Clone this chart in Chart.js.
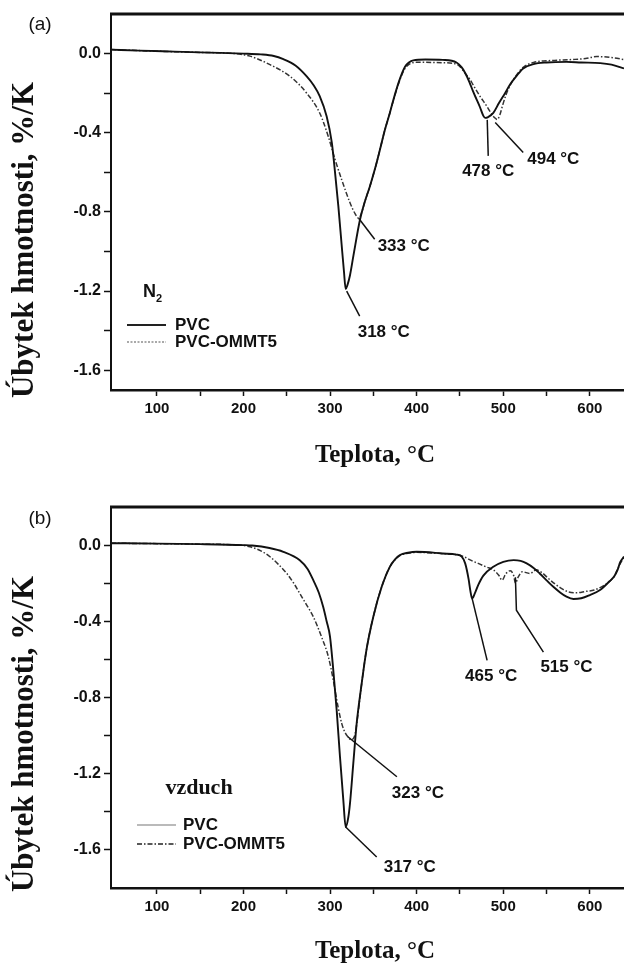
<!DOCTYPE html>
<html><head><meta charset="utf-8">
<script src="https://cdn.jsdelivr.net/npm/chart.js@4.4.0/dist/chart.umd.min.js"></script>
<style>
html,body{margin:0;padding:0;background:#fff;overflow:hidden;width:624px;height:967px}
#wa{position:absolute;left:0;top:0;width:624px;height:480px}
#wb{position:absolute;left:0;top:480px;width:624px;height:487px}
</style></head><body>
<div id="wa"><canvas id="ca"></canvas></div>
<div id="wb"><canvas id="cb"></canvas></div>
<script>
// ---------- data ----------
const xTicks = [100,150,200,250,300,350,400,450,500,550,600];
const xTickLabels = ['100','','200','','300','','400','','500','','600'];
const yTicks = [0,-0.2,-0.4,-0.6,-0.8,-1.0,-1.2,-1.4,-1.6];
const yTickLabels = ['0.0','','-0.4','','-0.8','','-1.2','','-1.6'];

// panel (a) N2
const tempA_PVC = [47,80,120,160,200,220,235,246,260,273,281,288,296,302,305.7,309.5,313.4,316,318,320,323,327,334.5,340,346,352,357.6,363,369,374,379,383,386.5,391,396,410,430,446,452,456,461,465,469,473,477,479,482,488.5,495,502,508,515,523,535,550,573,590,612,625,639.4];
const valA_PVC = [0.02,0.015,0.01,0.005,0.0,-0.004,-0.012,-0.028,-0.06,-0.115,-0.16,-0.215,-0.317,-0.45,-0.60,-0.77,-0.97,-1.10,-1.19,-1.17,-1.12,-1.02,-0.84,-0.75,-0.67,-0.58,-0.485,-0.39,-0.30,-0.22,-0.148,-0.10,-0.066,-0.045,-0.034,-0.03,-0.032,-0.045,-0.07,-0.098,-0.145,-0.19,-0.23,-0.27,-0.315,-0.325,-0.322,-0.30,-0.25,-0.20,-0.155,-0.115,-0.075,-0.053,-0.045,-0.042,-0.045,-0.048,-0.056,-0.075];
const tempA_OM = [47,100,150,190,207.5,230.6,253.7,273,288,298,305.7,313.4,323,329,333,336,340,346,352,357.6,363,369,374,379,383,387,392,400,430,445,450,456,461.5,465,473,481,485,489,493,496,499,503,508,515,523,535,555,580,595,608,625,639.4];
const valA_OM = [0.02,0.012,0.006,0.0,-0.013,-0.056,-0.115,-0.2,-0.30,-0.42,-0.535,-0.637,-0.754,-0.81,-0.832,-0.81,-0.75,-0.67,-0.58,-0.485,-0.39,-0.30,-0.222,-0.152,-0.106,-0.072,-0.052,-0.044,-0.046,-0.052,-0.066,-0.1,-0.13,-0.157,-0.215,-0.266,-0.295,-0.32,-0.333,-0.31,-0.265,-0.21,-0.16,-0.11,-0.07,-0.045,-0.035,-0.03,-0.025,-0.015,-0.02,-0.03];

// panel (b) vzduch
const tempB_PVC = [47,100,150,200,210,230,246,265,274,280.6,287,292,296,299.9,303.7,307.6,311.4,315.3,318,321,323,326.8,330.7,336.5,342,349.9,359.6,369,375,380.7,390,400,430,446,452,456,460,462,464,467,471,477,488.5,500,512,520,527,535,542,550,557.8,566,573,581,590,600,611.7,622.7,628,632,635,639.4];
const valB_PVC = [0.01,0.008,0.005,0.0,-0.002,-0.015,-0.035,-0.079,-0.125,-0.184,-0.25,-0.324,-0.40,-0.48,-0.656,-0.866,-1.11,-1.34,-1.48,-1.43,-1.355,-1.146,-0.936,-0.726,-0.55,-0.376,-0.219,-0.114,-0.075,-0.052,-0.04,-0.035,-0.044,-0.05,-0.06,-0.096,-0.18,-0.24,-0.28,-0.255,-0.21,-0.16,-0.114,-0.088,-0.079,-0.083,-0.096,-0.12,-0.149,-0.185,-0.219,-0.25,-0.271,-0.283,-0.279,-0.262,-0.236,-0.19,-0.165,-0.13,-0.09,-0.06];
const tempB_OM = [47,150,195,207.5,220,230.6,240,250,258,265,273,280.6,290,298,303.7,308.4,313.4,318,321,324,327,329,331,336.5,342,349.9,359.6,369,375,380.7,390,400,430,448,455,465,471,480,489,495,498.5,503,508,512,514,517,522,530.8,538,544.7,552,560,568,575,585,595,605,615,623,628,632,636,639.4];
const valB_OM = [0.01,0.005,0.0,-0.009,-0.03,-0.061,-0.10,-0.149,-0.20,-0.254,-0.315,-0.376,-0.48,-0.586,-0.709,-0.83,-0.936,-0.99,-1.008,-1.022,-1.015,-0.99,-0.93,-0.726,-0.55,-0.376,-0.219,-0.114,-0.077,-0.055,-0.043,-0.038,-0.045,-0.052,-0.062,-0.085,-0.096,-0.114,-0.131,-0.16,-0.184,-0.15,-0.135,-0.16,-0.20,-0.17,-0.14,-0.149,-0.13,-0.145,-0.175,-0.205,-0.23,-0.245,-0.25,-0.243,-0.236,-0.215,-0.19,-0.165,-0.125,-0.09,-0.065];

// peak labels (data anchors)
const peaksA = [{t:318,v:-1.19,text:'318 °C'},{t:333,v:-0.832,text:'333 °C'},{t:478,v:-0.325,text:'478 °C'},{t:493,v:-0.333,text:'494 °C'}];
const peaksB = [{t:318,v:-1.48,text:'317 °C'},{t:324,v:-1.022,text:'323 °C'},{t:464,v:-0.28,text:'465 °C'},{t:514,v:-0.2,text:'515 °C'}];
const seriesNames = ['PVC','PVC-OMMT5'];

// ---------- drawing ----------
const SANS = '"Liberation Sans", Arial, Helvetica, sans-serif';
const SERIF = '"Liberation Serif", "Times New Roman", Times, serif';
const pts = (ts, vs) => ts.map((t,i)=>({x:t,y:vs[i]}));
const DASH = [5,2,1.5,2];

const decor = {
  id:'decor',
  afterDraw(chart, args, o) {
    const c = chart.ctx, a = chart.chartArea, sx = chart.scales.x, sy = chart.scales.y;
    c.save();
    c.strokeStyle = '#111'; c.fillStyle = '#111';
    // top frame
    c.lineWidth = 3; c.setLineDash([]);
    c.beginPath(); c.moveTo(a.left-1, a.top); c.lineTo(a.right, a.top); c.stroke();
    // peak annotations
    o.notes.forEach((n, i) => {
      const pk = o.peaks[i];
      const px = sx.getPixelForValue(pk.t), py = sy.getPixelForValue(pk.v);
      c.lineWidth = 1.5; c.setLineDash([]);
      c.beginPath();
      n.path.forEach((p,k)=> k ? c.lineTo(px+p[0], py+p[1]) : c.moveTo(px+p[0], py+p[1]));
      c.stroke();
      c.font = 'bold 17px ' + SANS; c.textAlign = n.align || 'left'; c.textBaseline = 'middle';
      c.fillText(pk.text, px+n.label[0], py+n.label[1]);
    });
    // legend
    const L = o.legend;
    L.rows.forEach((r, i) => {
      c.strokeStyle = r.color; c.lineWidth = r.width; c.setLineDash(r.dash || []);
      c.beginPath(); c.moveTo(L.x0, r.y); c.lineTo(L.x1, r.y); c.stroke();
      c.setLineDash([]); c.fillStyle = '#111';
      c.font = 'bold 17px ' + SANS; c.textAlign = 'left'; c.textBaseline = 'middle';
      c.fillText(seriesNames[i], L.tx, r.y);
    });
    // gas label
    c.fillStyle = '#111';
    if (o.gas === 'N2') {
      c.font = 'bold 18px ' + SANS; c.textAlign = 'left'; c.textBaseline = 'middle';
      c.fillText('N', o.gasPos[0], o.gasPos[1]);
      c.font = 'bold 11px ' + SANS;
      c.fillText('2', o.gasPos[0]+13, o.gasPos[1]+7);
    } else {
      c.font = 'bold 22px ' + SERIF; c.textAlign = 'center'; c.textBaseline = 'middle';
      c.fillText(o.gas, o.gasPos[0], o.gasPos[1]);
    }
    // panel letter
    c.font = '19px ' + SANS; c.textAlign = 'center'; c.textBaseline = 'middle';
    c.fillText(o.letter, o.letterPos[0], o.letterPos[1]);
    // axis titles
    c.font = 'bold 25px ' + SERIF; c.textAlign = 'center'; c.textBaseline = 'middle';
    c.fillText('Teplota, °C', o.xTitle[0], o.xTitle[1]);
    c.font = 'bold 31px ' + SERIF;
    c.translate(o.yTitle[0], o.yTitle[1]); c.rotate(-Math.PI/2);
    c.fillText('Úbytek hmotnosti, %/K', 0, 0);
    c.restore();
  }
};

function makeChart(id, H, top, axisY, yMin, yMax, tP, vP, tO, vO, decorOpts) {
  return new Chart(document.getElementById(id), {
    type: 'line',
    data: { datasets: [
      { label: seriesNames[0], data: pts(tP, vP), borderColor: '#111', borderWidth: 1.9, pointRadius: 0, cubicInterpolationMode: 'monotone', fill: false },
      { label: seriesNames[1], data: pts(tO, vO), borderColor: '#333', borderWidth: 1.5, borderDash: DASH, pointRadius: 0, cubicInterpolationMode: 'monotone', fill: false }
    ]},
    options: {
      responsive: true, maintainAspectRatio: false, animation: false, devicePixelRatio: 1,
      layout: { padding: { top: top, right: 0, left: 0, bottom: 0 } },
      plugins: { legend: { display: false }, tooltip: { enabled: false }, decor: decorOpts },
      scales: {
        x: { type: 'linear', min: 47, max: 639.4,
          afterBuildTicks: s => { s.ticks = xTicks.map(v => ({ value: v })); },
          afterFit: s => { s.height = H - axisY; },
          ticks: { autoSkip: false, maxRotation: 0, padding: 4, color: '#111',
            font: { family: SANS, size: 15, weight: 'bold' },
            callback: v => { const i = xTicks.indexOf(v); return i >= 0 ? xTickLabels[i] : ''; } },
          grid: { display: true, drawOnChartArea: false, drawTicks: true, tickLength: 6, tickWidth: 1.5, tickColor: '#111' },
          border: { display: true, color: '#111', width: 2.5 }
        },
        y: { type: 'linear', min: yMin, max: yMax,
          afterBuildTicks: s => { s.ticks = yTicks.map(v => ({ value: v })); },
          afterFit: s => { s.width = 111; },
          ticks: { autoSkip: false, padding: 3, color: '#111',
            font: { family: SANS, size: 16, weight: 'bold' },
            callback: v => { const i = yTicks.findIndex(t => Math.abs(t - v) < 1e-9); return i >= 0 ? yTickLabels[i] : ''; } },
          grid: { display: true, drawOnChartArea: false, drawTicks: true, tickLength: 7, tickWidth: 1.5, tickColor: '#111' },
          border: { display: true, color: '#111', width: 2 }
        }
      }
    },
    plugins: [decor]
  });
}

makeChart('ca', 480, 14, 390, -1.7, 0.2, tempA_PVC, valA_PVC, tempA_OM, valA_OM, {
  peaks: peaksA,
  notes: [
    { path: [[1,2],[14,27]], label: [12,43] },
    { path: [[0,0],[16,21]], label: [19,28] },
    { path: [[3,2],[4,38]], label: [4,53], align: 'center' },
    { path: [[-2,3],[26,33]], label: [30,40] }
  ],
  legend: { x0: 127, x1: 166, tx: 175, rows: [
    { y: 325, color: '#222', width: 2 },
    { y: 342, color: '#555', width: 1.2, dash: [2,1.5] }
  ]},
  gas: 'N2', gasPos: [143, 292],
  letter: '(a)', letterPos: [40, 25],
  xTitle: [375, 456], yTitle: [25, 240]
});

makeChart('cb', 487, 27, 408, -1.8, 0.2, tempB_PVC, valB_PVC, tempB_OM, valB_OM, {
  peaks: peaksB,
  notes: [
    { path: [[0,0],[31,30]], label: [38,40] },
    { path: [[-3,-3],[46,37]], label: [41,54] },
    { path: [[0,0],[15,62]], label: [-7,78] },
    { path: [[0,-6],[1,27],[28,69]], label: [25,84] }
  ],
  legend: { x0: 137, x1: 176, tx: 183, rows: [
    { y: 345, color: '#777', width: 1.2 },
    { y: 364, color: '#222', width: 1.5, dash: DASH }
  ]},
  gas: 'vzduch', gasPos: [199, 308],
  letter: '(b)', letterPos: [40, 39],
  xTitle: [375, 472], yTitle: [25, 254]
});
</script>
</body></html>
